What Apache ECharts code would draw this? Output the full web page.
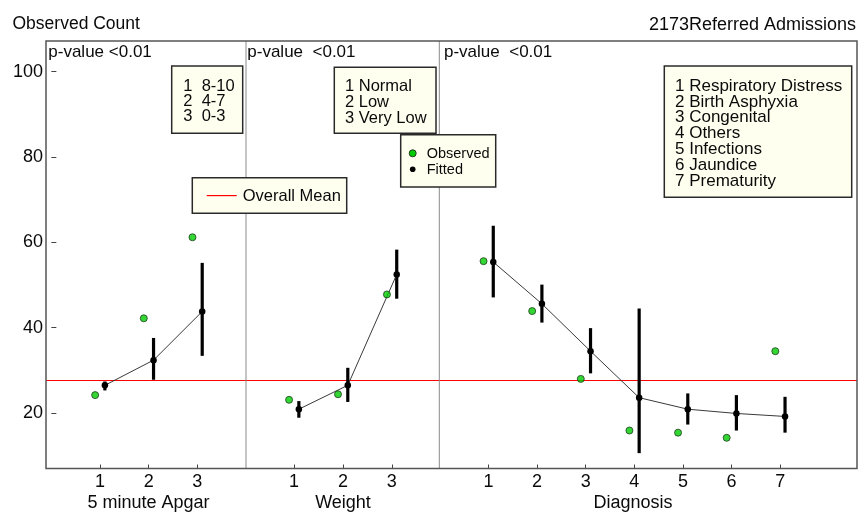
<!DOCTYPE html>
<html>
<head>
<meta charset="utf-8">
<script src="https://cdn.jsdelivr.net/npm/echarts@6/dist/echarts.min.js"></script>
<style>
html,body{margin:0;padding:0;background:#fff;}
#chart{width:865px;height:529px;}
</style>
</head>
<body>
<div id="chart"></div>
<script>
// ---------- data ----------
const yTicks = [20, 40, 60, 80, 100];
const overallMean = 27.8;

const apgarTicks = [1, 2, 3];
const apgarObs  = [24.2, 42.2, 61.2];
const apgarFit  = [26.5, 32.4, 43.8];
const apgarLow  = [25.3, 27.8, 33.4];
const apgarHigh = [27.4, 37.6, 55.2];
const apgarLegend = ['1  8-10', '2  4-7', '3  0-3'];

const weightTicks = [1, 2, 3];
const weightObs  = [23.1, 24.4, 47.8];
const weightFit  = [20.9, 26.5, 52.5];
const weightLow  = [18.9, 22.6, 46.8];
const weightHigh = [22.8, 30.6, 58.3];
const weightLegend = ['1 Normal', '2 Low', '3 Very Low'];

const diagTicks = [1, 2, 3, 4, 5, 6, 7];
const diagObs  = [55.6, 43.9, 28.0, 15.9, 15.4, 14.2, 34.5];
const diagFit  = [55.4, 45.6, 34.5, 23.6, 20.9, 19.9, 19.2];
const diagLow  = [47.1, 41.2, 29.3, 10.6, 17.3, 15.9, 15.4];
const diagHigh = [63.9, 50.1, 39.9, 44.5, 24.6, 24.2, 23.8];
const diagLegend = ['1 Respiratory Distress', '2 Birth Asphyxia', '3 Congenital', '4 Others', '5 Infections', '6 Jaundice', '7 Prematurity'];

const axisNames = ['5 minute Apgar', 'Weight', 'Diagnosis'];
const pLabels = ['p-value <0.01', 'p-value  <0.01', 'p-value  <0.01'];

// ---------- layout ----------
const FONT = "'Liberation Sans', Arial, sans-serif";
const TXT = '#0a0a0a';
const TOP = 41, BOTTOM = 468.5;
const panels = [
  {ticks: apgarTicks, obs: apgarObs, fit: apgarFit, low: apgarLow, high: apgarHigh, l: 46, r: 246, min: -0.11, max: 4, nameX: 148.5},
  {ticks: weightTicks, obs: weightObs, fit: weightFit, low: weightLow, high: weightHigh, l: 246, r: 439.3, min: 0.02, max: 3.97, nameX: 343},
  {ticks: diagTicks, obs: diagObs, fit: diagFit, low: diagLow, high: diagHigh, l: 439.3, r: 857, min: -0.01, max: 8.58, nameX: 633}
];
const OFF = 0.1;

const grids = [], xAxes = [], yAxes = [], series = [];
panels.forEach((p, i) => {
  grids.push({left: p.l, right: 865 - p.r, top: TOP, bottom: 529 - BOTTOM, show: false});
  xAxes.push({
    type: 'value', gridIndex: i, min: p.min, max: p.max,
    axisLine: {show: false}, splitLine: {show: false},
    axisTick: {show: true, inside: true, length: 4, customValues: p.ticks, lineStyle: {color: '#444', width: 1}},
    axisLabel: {show: true, customValues: p.ticks, margin: 5, fontSize: 18, fontFamily: FONT, color: TXT, formatter: v => String(v)}
  });
  yAxes.push({
    type: 'value', gridIndex: i, min: 7, max: 107.2,
    axisLine: {show: false}, splitLine: {show: false},
    axisTick: {show: i === 0, inside: true, length: 5, customValues: yTicks, lineStyle: {color: '#444', width: 1}},
    axisLabel: {show: i === 0, customValues: yTicks, margin: 3, fontSize: 18, fontFamily: FONT, color: TXT, formatter: v => String(v)}
  });
  // error bars
  series.push({
    type: 'custom', xAxisIndex: i, yAxisIndex: i, z: 3,
    data: p.ticks.map((t, k) => [t + OFF, p.low[k], p.high[k]]),
    encode: {x: 0, y: [1, 2]},
    renderItem: (params, api) => {
      const a = api.coord([api.value(0), api.value(1)]);
      const b = api.coord([api.value(0), api.value(2)]);
      return {type: 'line', shape: {x1: a[0], y1: a[1], x2: b[0], y2: b[1]}, style: {stroke: '#000', lineWidth: 3.2}};
    },
    silent: true
  });
  // fitted line + points
  series.push({
    type: 'line', xAxisIndex: i, yAxisIndex: i, z: 4,
    data: p.ticks.map((t, k) => [t + OFF, p.fit[k]]),
    symbol: 'circle', symbolSize: 6.5, showSymbol: true,
    itemStyle: {color: '#000'},
    lineStyle: {color: '#3a3a3a', width: 1},
    silent: true, animation: false,
    markLine: {
      silent: true, symbol: 'none', label: {show: false}, animation: false,
      lineStyle: {color: '#ff0000', width: 1, type: 'solid'},
      data: [{yAxis: overallMean}], z: 2
    }
  });
  // observed points
  series.push({
    type: 'scatter', xAxisIndex: i, yAxisIndex: i, z: 5,
    data: p.ticks.map((t, k) => [t - OFF, p.obs[k]]),
    symbol: 'circle', symbolSize: 7,
    itemStyle: {color: '#00cc00', borderColor: '#1e3d1e', borderWidth: 1},
    silent: true, animation: false
  });
});

// ---------- graphics (frame, texts, legend boxes) ----------
const g = [];
const txt = (text, x, y, size, align) => ({
  type: 'text', x: x, y: y, z: 100,
  style: {text: text, fill: TXT, font: size + 'px ' + FONT, textAlign: align || 'left', textVerticalAlign: 'middle'}
});
const box = (x1, y1, x2, y2) => ({
  type: 'rect', z: 90, shape: {x: x1, y: y1, width: x2 - x1, height: y2 - y1},
  style: {fill: '#fffff0', stroke: '#2a2a2a', lineWidth: 1.5}
});
// dividers
g.push({type: 'line', z: 10, shape: {x1: 246, y1: TOP, x2: 246, y2: BOTTOM}, style: {stroke: '#8a8a8a', lineWidth: 1}});
g.push({type: 'line', z: 10, shape: {x1: 439.3, y1: TOP, x2: 439.3, y2: BOTTOM}, style: {stroke: '#8a8a8a', lineWidth: 1}});
// frame
g.push({type: 'rect', z: 10, shape: {x: 46, y: TOP, width: 857 - 46, height: BOTTOM - TOP}, style: {fill: 'none', stroke: '#555', lineWidth: 1.5}});
// titles
g.push(txt('Observed Count', 12.5, 24.5, 17.5));
g.push(txt('2173Referred Admissions', 856, 25, 18, 'right'));
// p-values
g.push(txt(pLabels[0], 48.3, 52.5, 17));
g.push(txt(pLabels[1], 247.3, 52.5, 17));
g.push(txt(pLabels[2], 444, 52.5, 17));
// axis names
panels.forEach((p, i) => g.push(txt(axisNames[i], p.nameX, 503, 18, 'center')));

// Apgar legend
g.push(box(171.7, 66, 242.7, 133.3));
apgarLegend.forEach((s, k) => g.push(txt(s, 183.3, 86 + k * 15.3, 16.5)));
// Weight legend
g.push(box(334.3, 67.3, 436, 133.3));
weightLegend.forEach((s, k) => g.push(txt(s, 345, 86 + k * 16, 16.5)));
// Observed / Fitted legend
g.push(box(400.7, 134.7, 495.7, 187));
g.push({type: 'circle', z: 101, shape: {cx: 412.7, cy: 153.3, r: 3.5}, style: {fill: '#00cc00', stroke: '#1e3d1e', lineWidth: 1}});
g.push({type: 'circle', z: 101, shape: {cx: 412.7, cy: 169.3, r: 2.8}, style: {fill: '#000'}});
g.push(txt('Observed', 426.7, 154, 14.5));
g.push(txt('Fitted', 426.7, 170, 14.5));
// Overall mean legend
g.push(box(192.3, 177.7, 346.7, 213.3));
g.push({type: 'rect', z: 101, shape: {x: 206.7, y: 195, width: 30, height: 1.2}, style: {fill: '#ff0000'}});
g.push(txt('Overall Mean', 242.7, 196.5, 16.5));
// Diagnosis legend
g.push(box(664.3, 66, 851.7, 197.3));
diagLegend.forEach((s, k) => g.push(txt(s, 675, 86 + k * 15.83, 17)));

const chart = echarts.init(document.getElementById('chart'), null, {renderer: 'canvas'});
chart.setOption({
  animation: false,
  backgroundColor: '#fff',
  grid: grids, xAxis: xAxes, yAxis: yAxes, series: series,
  graphic: g
});
</script>
</body>
</html>
